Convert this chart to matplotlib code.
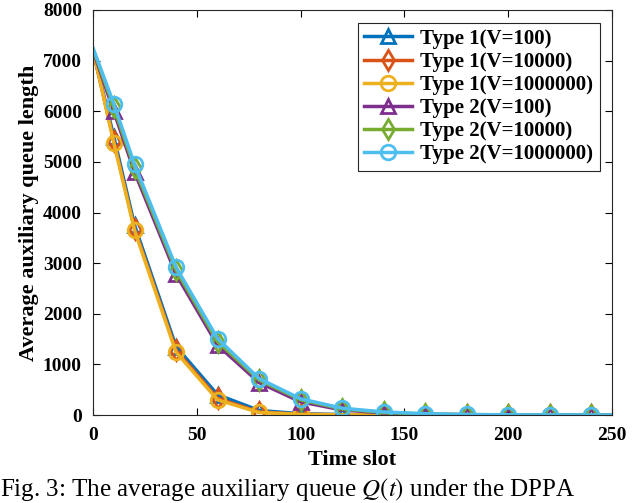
import matplotlib
matplotlib.use("Agg")
import matplotlib.pyplot as plt

plt.rcParams['font.family'] = 'Liberation Serif'
plt.rcParams['mathtext.fontset'] = 'stix'

## Datos
t = [0, 10, 20, 40, 60, 80, 100, 120, 140, 160, 180, 200, 220, 240, 250]

type1_v100 = [7200, 5500, 3750, 1350, 400, 90, 25, 8, 3, 1, 0, 0, 0, 0, 0]
type1_v1e4 = [7200, 5420, 3680, 1280, 330, 60, 15, 5, 2, 1, 0, 0, 0, 0, 0]
type1_v1e6 = [7220, 5380, 3650, 1240, 300, 50, 12, 4, 2, 1, 0, 0, 0, 0, 0]
type2_v100 = [7200, 6000, 4800, 2780, 1380, 640, 260, 100, 40, 15, 6, 3, 1, 0, 0]
type2_v1e4 = [7230, 6080, 4880, 2860, 1450, 690, 300, 120, 50, 20, 8, 3, 1, 0, 0]
type2_v1e6 = [7250, 6150, 4950, 2920, 1510, 720, 320, 135, 60, 25, 10, 4, 2, 1, 0]

series = [type1_v100, type1_v1e4, type1_v1e6, type2_v100, type2_v1e4, type2_v1e6]
labels = ['Type 1(V=100)', 'Type 1(V=10000)', 'Type 1(V=1000000)',
          'Type 2(V=100)', 'Type 2(V=10000)', 'Type 2(V=1000000)']
colors = ['#0072BD', '#D95319', '#EDB120', '#7E2F8E', '#77AC30', '#4DBEEE']
markers = ['^', 'd', 'o', '^', 'd', 'o']

## Figura
fig = plt.figure(figsize=(6.4, 5.03), dpi=100)
ax = fig.add_axes([93/640, 1 - 415/503, (612 - 93)/640, (415 - 10)/503])

for i in range(len(series)):
    ax.plot(t, series[i], color=colors[i], lw=2.5, marker=markers[i],
            markersize=10.5, markerfacecolor='none', markeredgewidth=2,
            markevery=list(range(1, len(t) - 1)), label=labels[i])

ax.set_xlim(0, 250)
ax.set_ylim(0, 8000)
ax.set_xticks(range(0, 251, 50))
ax.set_yticks(range(0, 8001, 1000))
ax.tick_params(direction='in', top=True, right=True, length=5, width=0.8,
               labelsize=14)
ax.tick_params(axis='x', pad=9)
ax.tick_params(axis='y', pad=8)
for lab in ax.get_xticklabels() + ax.get_yticklabels():
    lab.set_fontweight('bold')
for s in ax.spines.values():
    s.set_linewidth(0.8)
    s.set_color('#262626')

ax.set_xlabel('Time slot', fontsize=16, fontweight='bold', labelpad=4)
ax.set_ylabel('Average auxiliary queue length', fontsize=16, fontweight='bold', labelpad=3)

leg = ax.legend(loc='upper right', prop={'weight': 'bold', 'size': 15},
                fancybox=False, framealpha=1, edgecolor='#262626',
                handlelength=2.3, labelspacing=0.15, borderpad=0.3,
                handletextpad=0.4, borderaxespad=0.6)
leg.get_frame().set_linewidth(0.8)

fig.text(0.0, 0.0,
         'Fig. 3: The average auxiliary queue $Q(t)$ under the DPPA',
         fontsize=18, va='bottom', ha='left')

fig.savefig('out.png', dpi=100)
